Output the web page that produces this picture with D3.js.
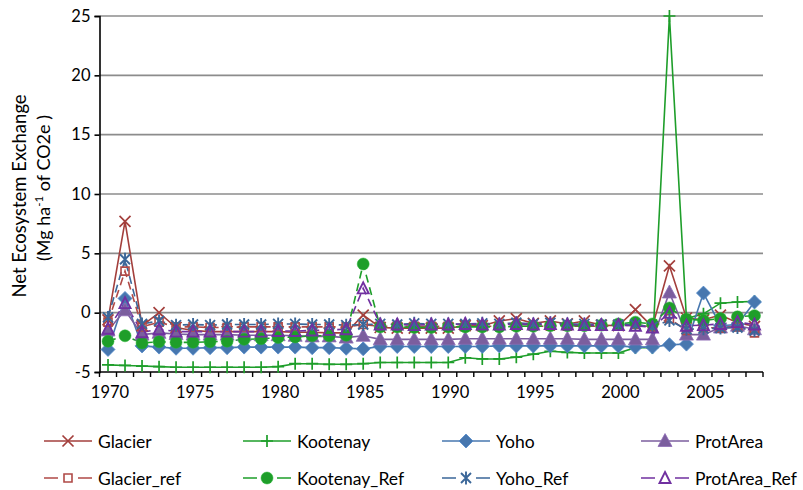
<!DOCTYPE html>
<html><head><meta charset="utf-8">
<script src="https://cdn.jsdelivr.net/npm/d3@7/dist/d3.min.js"></script>
<style>body{margin:0;background:#fff}svg{display:block;font-family:Lato,"Open Sans",sans-serif}</style>
</head><body><svg id="c" width="803" height="490"></svg>
<script>
const years = [1970,1971,1972,1973,1974,1975,1976,1977,1978,1979,1980,1981,1982,1983,1984,1985,1986,1987,1988,1989,1990,1991,1992,1993,1994,1995,1996,1997,1998,1999,2000,2001,2002,2003,2004,2005,2006,2007,2008];
const yTicks = [-5,0,5,10,15,20,25];
const xLabelYears = [1970,1975,1980,1985,1990,1995,2000,2005];

const glacier = [-0.6,7.7,-1.1,0.0,-1.25,-1.5,-1.6,-1.6,-1.6,-1.6,-1.6,-1.65,-1.65,-1.7,-1.7,-0.2,-1.25,-1.3,-1.3,-1.3,-1.3,-1.1,-1.1,-0.7,-0.5,-0.9,-0.7,-0.95,-0.7,-1.05,-1.1,0.25,-1.2,3.95,-0.45,-0.6,-0.2,-0.85,-1.15];
const kootenay = [-4.4,-4.45,-4.5,-4.55,-4.6,-4.6,-4.6,-4.6,-4.6,-4.6,-4.55,-4.3,-4.3,-4.35,-4.35,-4.3,-4.2,-4.2,-4.2,-4.2,-4.2,-3.8,-3.9,-3.9,-3.75,-3.5,-3.25,-3.35,-3.4,-3.4,-3.4,-2.95,-2.95,25.0,-0.5,-0.1,0.8,0.9,0.95];
const yoho = [-3.1,1.2,-2.8,-2.9,-3.0,-3.0,-2.95,-2.95,-2.9,-2.9,-2.9,-2.9,-2.95,-2.95,-3.0,-3.05,-2.85,-2.85,-2.85,-2.85,-2.85,-2.85,-2.85,-2.8,-2.8,-2.8,-2.8,-2.8,-2.8,-2.8,-2.8,-2.9,-2.9,-2.7,-2.65,1.65,-1.1,-1.0,0.9];
const protArea = [-1.5,0.2,-1.85,-1.7,-1.8,-1.85,-1.85,-1.85,-1.9,-1.9,-1.9,-1.95,-2.0,-2.0,-2.1,-1.95,-2.25,-2.25,-2.25,-2.25,-2.25,-2.2,-2.2,-2.2,-2.2,-2.2,-2.2,-2.2,-2.25,-2.25,-2.25,-2.25,-2.25,1.7,-1.85,-1.85,-1.25,-1.1,-1.4];
const glacierRef = [-0.8,3.5,-1.2,-0.8,-1.2,-1.2,-1.25,-1.25,-1.2,-1.2,-1.2,-1.2,-1.2,-1.2,-1.2,-1.0,-1.15,-1.15,-1.15,-1.15,-1.15,-1.15,-1.15,-1.15,-1.15,-1.15,-1.15,-1.15,-1.15,-1.15,-1.15,-1.0,-1.2,-0.5,-1.5,-1.25,-1.3,-1.2,-1.7];
const kootenayRef = [-2.4,-1.95,-2.55,-2.45,-2.5,-2.5,-2.45,-2.4,-2.25,-2.2,-2.1,-2.05,-1.95,-1.95,-1.9,4.1,-1.2,-1.2,-1.25,-1.25,-1.2,-1.2,-1.2,-1.2,-1.15,-1.15,-1.1,-1.1,-1.1,-1.05,-0.95,-0.8,-0.95,0.4,-0.55,-0.65,-0.5,-0.35,-0.25];
const yohoRef = [-0.4,4.5,-0.95,-0.7,-1.05,-1.0,-1.05,-1.0,-1.0,-1.0,-0.95,-0.95,-1.0,-1.0,-1.05,-1.0,-0.95,-1.0,-0.9,-0.95,-0.95,-0.95,-0.9,-0.95,-0.85,-0.95,-0.85,-0.95,-0.95,-1.0,-1.0,-1.0,-1.2,-0.65,-1.4,-1.35,-1.3,-1.25,-1.5];
const protAreaRef = [-1.35,0.8,-1.65,-1.4,-1.6,-1.6,-1.6,-1.6,-1.6,-1.6,-1.55,-1.55,-1.5,-1.45,-1.4,2.05,-1.0,-1.0,-1.05,-1.0,-1.0,-0.95,-1.0,-1.0,-0.95,-1.0,-0.95,-1.0,-1.05,-1.05,-1.05,-1.1,-1.25,0.0,-1.1,-1.05,-0.95,-0.8,-1.0];

const markers = {
  x: {d:"M-5.5,-5.5L5.5,5.5M-5.5,5.5L5.5,-5.5", fill:false, sw:1.7},
  plus: {d:"M-6,0H6M0,-6V6", fill:false, sw:1.7},
  diamond: {d:"M0,-7L7,0L0,7L-7,0Z", fill:true, sw:0.8},
  tri: {d:"M0,-7.5L7,5.5L-7,5.5Z", fill:true, sw:0.8},
  square: {d:"M-4,-4h8v8h-8Z", fill:false, sw:1.6},
  circle: {d:"M6,0A6,6 0 1 1 -6,0A6,6 0 1 1 6,0Z", fill:true, sw:0.5},
  star: {d:"M-5,-5L5,5M-5,5L5,-5M0,-6.5V6.5", fill:false, sw:1.9},
  otri: {d:"M0,-6L5.5,5L-5.5,5Z", fill:false, sw:1.9}
};
const series = [
  {name:"Glacier", values:glacier, color:"#A33F3C", m:"x", dash:null},
  {name:"Kootenay", values:kootenay, color:"#1E9E2A", m:"plus", dash:null},
  {name:"Yoho", values:yoho, color:"#4777AF", m:"diamond", dash:null},
  {name:"ProtArea", values:protArea, color:"#7B5E9E", m:"tri", dash:null},
  {name:"Glacier_ref", values:glacierRef, color:"#B04A47", m:"square", dash:"8,5"},
  {name:"Kootenay_Ref", values:kootenayRef, color:"#1E9E2A", m:"circle", dash:"8,5"},
  {name:"Yoho_Ref", values:yohoRef, color:"#3B6799", m:"star", dash:"8,5"},
  {name:"ProtArea_Ref", values:protAreaRef, color:"#7030A0", m:"otri", dash:"8,5"}
];

const svg = d3.select("#c");
const L = 99.5, R = 763, T = 16, B = 372;
const x = d3.scaleBand().domain(years).range([L, R]).padding(0);
const y = d3.scaleLinear().domain([-5, 25]).range([B, T]);
const cx = d => x(d) + x.bandwidth()/2;

// gridlines
svg.append("g").selectAll("line").data(yTicks.filter(v => v > -5)).join("line")
  .attr("x1", L).attr("x2", R).attr("y1", d => y(d)).attr("y2", d => y(d))
  .attr("stroke", "#8c8c8c").attr("stroke-width", 1.6);

// y axis
const ya = svg.append("g").attr("transform", `translate(${L},0)`)
  .call(d3.axisLeft(y).tickValues(yTicks).tickSize(5).tickPadding(4).tickFormat(d3.format("d")));
ya.select(".domain").attr("stroke", "#000").attr("stroke-width", 1.6);
ya.selectAll(".tick line").attr("stroke", "#000").attr("stroke-width", 1.6);
ya.selectAll("text").attr("font-size", 16.5).attr("fill", "#000").attr("font-family", "Lato");
ya.selectAll(".tick text").text(d => d < 0 ? "-" + Math.abs(d) : d);

// x axis
svg.append("line").attr("x1", L).attr("x2", R).attr("y1", B).attr("y2", B).attr("stroke", "#000").attr("stroke-width", 1.6);
const bounds = years.map(d => x(d)).concat([x(years[years.length-1]) + x.bandwidth()]);
svg.append("g").selectAll("line").data(bounds).join("line")
  .attr("x1", d => d).attr("x2", d => d).attr("y1", B).attr("y2", B + 5)
  .attr("stroke", "#000").attr("stroke-width", 1.4);
svg.append("g").selectAll("text").data(xLabelYears).join("text")
  .attr("x", d => cx(d) + 2).attr("y", 398).attr("text-anchor", "middle")
  .attr("font-size", 16.5).attr("fill", "#000").text(d => d);

// y title
const yt = svg.append("text").attr("transform", "translate(26,196) rotate(-90)")
  .attr("text-anchor", "middle").attr("font-size", 18.5).attr("fill", "#000");
yt.append("tspan").attr("x", 0).attr("y", 0).text("Net Ecosystem Exchange");
const t2 = svg.append("text").attr("transform", "translate(50,188) rotate(-90)")
  .attr("text-anchor", "middle").attr("font-size", 18).attr("fill", "#000");
t2.append("tspan").text("(Mg ha");
t2.append("tspan").attr("font-size", 11.5).attr("dy", -7).text("-1");
t2.append("tspan").attr("dy", 7).text(" of CO2e )");

// lines
const line = d3.line().x((d,i) => cx(years[i])).y(d => y(d));
series.forEach(s => {
  svg.append("path").attr("d", line(s.values)).attr("fill", "none")
    .attr("stroke", s.color).attr("stroke-width", 1.6)
    .attr("stroke-dasharray", s.dash);
});
// markers
function drawMarker(g, m, color) {
  const mk = markers[m];
  g.append("path").attr("d", mk.d)
    .attr("fill", mk.fill ? color : "none")
    .attr("stroke", mk.fill ? d3.color(color).brighter(0.4) : color)
    .attr("stroke-width", mk.sw);
}
series.forEach(s => {
  const g = svg.append("g");
  s.values.forEach((v,i) => {
    const mg = g.append("g").attr("transform", `translate(${cx(years[i])},${y(v)})`);
    drawMarker(mg, s.m, s.color);
  });
});

// legend
const colX = [44, 243, 442, 641];
const rowY = [441, 478];
series.forEach((s, i) => {
  const c = i % 4, r = Math.floor(i / 4);
  const g = svg.append("g").attr("transform", `translate(${colX[c]},${rowY[r]})`);
  g.append("line").attr("x1", 0).attr("x2", 48).attr("y1", 0).attr("y2", 0)
    .attr("stroke", s.color).attr("stroke-width", 1.6)
    .attr("stroke-dasharray", s.dash ? "14,20,14" : null);
  const mg = g.append("g").attr("transform", "translate(24,0)");
  drawMarker(mg, s.m, s.color);
  g.append("text").attr("x", 54).attr("y", 6.5).attr("font-size", 17.5).attr("fill", "#000").text(s.name);
});
</script></body></html>
